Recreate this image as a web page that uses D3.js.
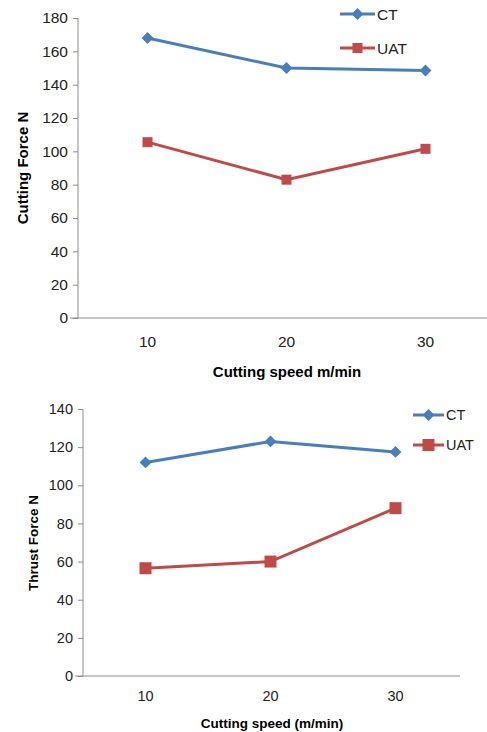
<!DOCTYPE html>
<html>
<head>
<meta charset="utf-8">
<script src="https://cdn.jsdelivr.net/npm/d3@7"></script>
<style>
  body { margin: 0; background: #fff; }
  svg { display: block; }
  .axis text { font-family: "Liberation Sans", Arial, sans-serif; fill: #222; }
  .title { font-family: "Liberation Sans", Arial, sans-serif; font-weight: bold; fill: #000; }
</style>
</head>
<body>
<script>
// Categories (cutting speed, m/min)
var speeds = ["10", "20", "30"];

// Cutting force (N)
var cuttingCT  = [168, 150, 148.5];
var cuttingUAT = [105.5, 83, 101.5];

// Thrust force (N)
var thrustCT  = [112, 123, 117.5];
var thrustUAT = [56.5, 60, 88];

// Tick values
var cuttingTicks = [0, 20, 40, 60, 80, 100, 120, 140, 160, 180];
var thrustTicks  = [0, 20, 40, 60, 80, 100, 120, 140];

var seriesNames = ["CT", "UAT"];
var blue = "#4a7ebb", red = "#be4b48", axisGrey = "#8c8c8c";

var svg = d3.select("body").append("svg")
    .attr("width", 487)
    .attr("height", 732);

function drawChart(cfg) {
    var g = svg.append("g");

    var x = d3.scaleBand()
        .domain(speeds)
        .range([cfg.left, cfg.right]);

    var y = d3.scaleLinear()
        .domain([0, d3.max(cfg.ticks)])
        .range([cfg.bottom, cfg.top]);

    // y axis
    var yAxis = d3.axisLeft(y)
        .tickValues(cfg.ticks)
        .tickSize(5)
        .tickPadding(5);
    var yg = g.append("g")
        .attr("class", "axis")
        .attr("transform", "translate(" + cfg.left + ",0)")
        .call(yAxis);
    yg.selectAll("text").style("font-size", cfg.fontSize + "px");
    yg.selectAll("line, path").attr("stroke", axisGrey);
    yg.select(".domain").attr("d", "M0," + cfg.bottom + "V" + cfg.top);

    // x axis
    var xAxis = d3.axisBottom(x)
        .tickSize(0)
        .tickPadding(cfg.xPad);
    var xg = g.append("g")
        .attr("class", "axis")
        .attr("transform", "translate(0," + cfg.bottom + ")")
        .call(xAxis);
    xg.selectAll("text").style("font-size", cfg.fontSize + "px");
    xg.select(".domain")
        .attr("stroke", axisGrey)
        .attr("d", "M" + (cfg.left - 8) + ",0H" + cfg.axisEnd);

    // axis titles
    g.append("text")
        .attr("class", "title")
        .attr("x", cfg.xTitle[0])
        .attr("y", cfg.xTitle[1])
        .attr("text-anchor", "middle")
        .style("font-size", cfg.titleSize + "px")
        .text(cfg.xLabel);

    g.append("text")
        .attr("class", "title")
        .attr("transform", "translate(" + cfg.yTitle[0] + "," + cfg.yTitle[1] + ") rotate(-90)")
        .attr("text-anchor", "middle")
        .style("font-size", cfg.titleSize + "px")
        .text(cfg.yLabel);

    var line = d3.line()
        .x(function(d, i) { return x(speeds[i]) + x.bandwidth() / 2; })
        .y(function(d) { return y(d); });

    var diamond = d3.symbol().type(d3.symbolDiamond2).size(cfg.diamondSize);

    // CT series
    g.append("path")
        .datum(cfg.ct)
        .attr("fill", "none")
        .attr("stroke", blue)
        .attr("stroke-width", 3)
        .attr("d", line);
    g.selectAll(".ct-pt")
        .data(cfg.ct)
        .enter().append("path")
        .attr("class", "ct-pt")
        .attr("transform", function(d, i) {
            return "translate(" + (x(speeds[i]) + x.bandwidth() / 2) + "," + y(d) + ")";
        })
        .attr("d", diamond)
        .attr("fill", blue);

    // UAT series
    g.append("path")
        .datum(cfg.uat)
        .attr("fill", "none")
        .attr("stroke", red)
        .attr("stroke-width", 3)
        .attr("d", line);
    g.selectAll(".uat-pt")
        .data(cfg.uat)
        .enter().append("rect")
        .attr("class", "uat-pt")
        .attr("x", function(d, i) { return x(speeds[i]) + x.bandwidth() / 2 - cfg.sq / 2; })
        .attr("y", function(d) { return y(d) - cfg.sq / 2; })
        .attr("width", cfg.sq)
        .attr("height", cfg.sq)
        .attr("fill", red);

    // legend
    var colors = [blue, red];
    seriesNames.forEach(function(name, i) {
        var ly = cfg.legend[1] + i * cfg.legendGap;
        var lx = cfg.legend[0];
        var lg = g.append("g");
        lg.append("line")
            .attr("x1", lx).attr("x2", lx + cfg.legendLen)
            .attr("y1", ly).attr("y2", ly)
            .attr("stroke", colors[i])
            .attr("stroke-width", 3);
        if (i === 0) {
            lg.append("path")
                .attr("transform", "translate(" + (lx + cfg.legendLen / 2) + "," + ly + ")")
                .attr("d", diamond)
                .attr("fill", blue);
        } else {
            lg.append("rect")
                .attr("x", lx + cfg.legendLen / 2 - cfg.sq / 2)
                .attr("y", ly - cfg.sq / 2)
                .attr("width", cfg.sq).attr("height", cfg.sq)
                .attr("fill", red);
        }
        lg.append("text")
            .attr("x", lx + cfg.legendLen + 2)
            .attr("y", ly)
            .attr("dy", "0.36em")
            .style("font-family", "Liberation Sans, Arial, sans-serif")
            .style("font-size", cfg.fontSize + "px")
            .attr("fill", "#222")
            .text(name);
    });
}

// Cutting force chart
drawChart({
    left: 78, right: 495, top: 18, bottom: 318, axisEnd: 487,
    ticks: cuttingTicks, ct: cuttingCT, uat: cuttingUAT,
    fontSize: 15.5, titleSize: 15, xPad: 18,
    xLabel: "Cutting speed m/min", yLabel: "Cutting Force N",
    xTitle: [287, 377], yTitle: [28, 168],
    diamondSize: 90, sq: 10,
    legend: [340, 14], legendGap: 34, legendLen: 35
});

// Thrust force chart
drawChart({
    left: 83, right: 458, top: 409, bottom: 676, axisEnd: 460,
    ticks: thrustTicks, ct: thrustCT, uat: thrustUAT,
    fontSize: 14.5, titleSize: 13.5, xPad: 15,
    xLabel: "Cutting speed (m/min)", yLabel: "Thrust Force N",
    xTitle: [272, 728], yTitle: [38, 543],
    diamondSize: 90, sq: 12,
    legend: [413, 415], legendGap: 30, legendLen: 31
});
</script>
</body>
</html>
